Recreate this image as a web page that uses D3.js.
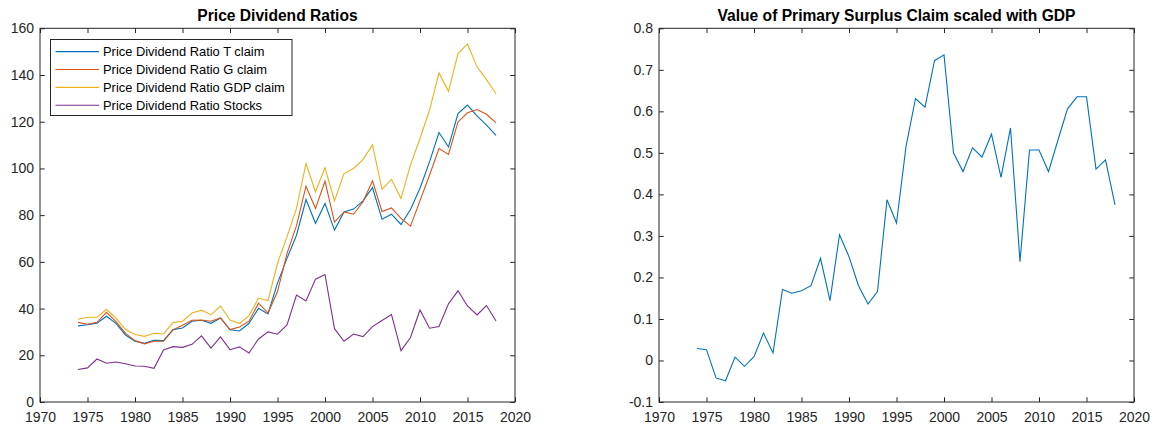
<!DOCTYPE html>
<html>
<head>
<meta charset="utf-8">
<script src="https://cdn.jsdelivr.net/npm/d3@7"></script>
<style>
    body { margin: 0; background: #ffffff; }
    svg text { font-family: "Liberation Sans", Arial, Helvetica, sans-serif; fill: #262626; }
</style>
</head>
<body>
<svg id="fig" width="1156" height="428"></svg>
<script>
// yearly data, 1974 - 2018
var years = [1974, 1975, 1976, 1977, 1978, 1979, 1980, 1981, 1982, 1983, 1984, 1985, 1986, 1987, 1988,
    1989, 1990, 1991, 1992, 1993, 1994, 1995, 1996, 1997, 1998, 1999, 2000, 2001, 2002, 2003,
    2004, 2005, 2006, 2007, 2008, 2009, 2010, 2011, 2012, 2013, 2014, 2015, 2016, 2017, 2018];

var pdT = [32.6, 33.1, 33.7, 36.7, 33.7, 28.7, 26.0, 25.1, 26.4, 26.3, 31.0, 31.7, 34.6, 35.0, 33.7,
    36.0, 30.9, 30.4, 33.7, 40.1, 37.7, 50.9, 61.5, 71.4, 86.7, 76.5, 85.0, 73.6, 81.4, 82.6,
    86.1, 91.8, 78.3, 80.4, 76.0, 82.4, 91.5, 102.8, 115.4, 109.2, 123.5, 127.1, 122.5, 118.5, 114.2];

var pdG = [34.1, 33.3, 34.1, 38.4, 34.4, 29.4, 26.3, 24.9, 26.0, 26.0, 30.9, 32.9, 35.0, 35.1, 34.6,
    36.0, 31.0, 32.1, 34.6, 42.3, 38.1, 47.3, 63.5, 75.5, 92.4, 82.9, 94.5, 77.0, 81.4, 80.4,
    85.7, 94.7, 81.6, 83.1, 78.6, 75.3, 86.2, 97.1, 108.5, 106.0, 119.9, 123.8, 125.2, 123.2, 119.5];

var pdGDP = [35.4, 36.3, 36.3, 39.7, 35.9, 31.0, 28.9, 28.1, 29.4, 29.1, 34.0, 34.6, 38.1, 39.3, 37.4,
    41.1, 35.1, 33.6, 37.0, 44.4, 43.4, 59.4, 70.7, 82.9, 102.1, 90.0, 100.3, 86.1, 97.8, 100.0,
    103.8, 110.1, 91.0, 95.3, 87.1, 101.5, 112.8, 124.9, 140.9, 133.0, 149.2, 153.3, 143.5, 138.0, 132.0];

var pdStocks = [13.9, 14.6, 18.4, 16.6, 17.1, 16.4, 15.4, 15.3, 14.4, 22.3, 23.7, 23.4, 24.7, 28.3, 23.1,
    27.9, 22.4, 23.6, 21.0, 27.0, 30.0, 29.0, 33.0, 45.8, 43.3, 52.6, 54.6, 31.4, 26.0, 29.1,
    28.0, 32.3, 34.9, 37.4, 22.0, 27.6, 39.4, 31.6, 32.3, 42.1, 47.6, 41.1, 37.3, 41.3, 34.7];

var surplus = [0.029, 0.026, -0.042, -0.049, 0.008, -0.014, 0.009, 0.066, 0.018, 0.171, 0.162, 0.168, 0.180, 0.246, 0.144,
    0.303, 0.250, 0.180, 0.136, 0.166, 0.387, 0.331, 0.515, 0.631, 0.610, 0.722, 0.736, 0.500, 0.455, 0.512,
    0.490, 0.545, 0.441, 0.560, 0.238, 0.507, 0.507, 0.455, 0.531, 0.606, 0.635, 0.635, 0.461, 0.483, 0.375];

// tick values
var xTicks = [1970, 1975, 1980, 1985, 1990, 1995, 2000, 2005, 2010, 2015, 2020];
var yTicksLeft = [0, 20, 40, 60, 80, 100, 120, 140, 160];
var yTicksRight = [-0.1, 0, 0.1, 0.2, 0.3, 0.4, 0.5, 0.6, 0.7, 0.8];

var seriesLeft = [
    {name: "Price Dividend Ratio T claim", values: pdT, color: "#0072bd"},
    {name: "Price Dividend Ratio G claim", values: pdG, color: "#d95319"},
    {name: "Price Dividend Ratio GDP claim", values: pdGDP, color: "#edb120"},
    {name: "Price Dividend Ratio Stocks", values: pdStocks, color: "#7e2f8e"}
];

var axisColor = "#262626";
var svg = d3.select("#fig");

// draws one matlab-like axes box and returns the scales
function drawAxes(box, yDomain, yTicks, title) {
    var x = d3.scaleLinear().domain([1970, 2020]).range([box.left, box.right]);
    var y = d3.scaleLinear().domain(yDomain).range([box.bottom, box.top]);
    var tick = 4.75;

    var g = svg.append("g");

    // bottom + left with labels, ticks pointing inward
    g.append("g")
        .attr("transform", "translate(0," + box.bottom + ")")
        .call(d3.axisBottom(x).tickValues(xTicks).tickFormat(d3.format("d"))
            .tickSizeInner(-tick).tickSizeOuter(0).tickPadding(10.5));
    g.append("g")
        .attr("transform", "translate(" + box.left + ",0)")
        .call(d3.axisLeft(y).tickValues(yTicks).tickFormat(function(d) { return String(+d.toFixed(2)); })
            .tickSizeInner(-tick).tickSizeOuter(0).tickPadding(6));

    // top + right, ticks only
    g.append("g")
        .attr("transform", "translate(0," + box.top + ")")
        .call(d3.axisTop(x).tickValues(xTicks).tickFormat("").tickSizeInner(-tick).tickSizeOuter(0));
    g.append("g")
        .attr("transform", "translate(" + box.right + ",0)")
        .call(d3.axisRight(y).tickValues(yTicks).tickFormat("").tickSizeInner(-tick).tickSizeOuter(0));

    g.selectAll(".domain").remove();
    g.selectAll(".tick line").attr("stroke", axisColor);
    g.selectAll(".tick text")
        .attr("font-size", "14px")
        .style("fill", axisColor);

    g.append("rect")
        .attr("x", box.left)
        .attr("y", box.top)
        .attr("width", box.right - box.left)
        .attr("height", box.bottom - box.top)
        .attr("fill", "none")
        .attr("stroke", axisColor)
        .attr("stroke-width", 1);

    svg.append("text")
        .attr("x", (box.left + box.right) / 2)
        .attr("y", 20.5)
        .attr("text-anchor", "middle")
        .attr("font-size", "15.6px")
        .attr("font-weight", "bold")
        .style("fill", "#000000")
        .text(title);

    return {x: x, y: y};
}

function drawLine(sc, values, color) {
    var line = d3.line()
        .x(function(d, i) { return sc.x(years[i]); })
        .y(function(d) { return sc.y(d); });
    svg.append("path")
        .datum(values)
        .attr("d", line)
        .attr("fill", "none")
        .attr("stroke", color)
        .attr("stroke-width", 1.1);
}

// left panel
var left = drawAxes({left: 40, right: 515, top: 28.3, bottom: 402}, [0, 160], yTicksLeft, "Price Dividend Ratios");
seriesLeft.forEach(function(s) {
    drawLine(left, s.values, s.color);
});

// legend
var legend = svg.append("g");
legend.append("rect")
    .attr("x", 50.5)
    .attr("y", 39.5)
    .attr("width", 241.5)
    .attr("height", 76)
    .attr("fill", "#ffffff")
    .attr("stroke", axisColor)
    .attr("stroke-width", 1);
seriesLeft.forEach(function(s, i) {
    var yy = 51.6 + i * 17.9;
    legend.append("line")
        .attr("x1", 55.5).attr("x2", 99)
        .attr("y1", yy).attr("y2", yy)
        .attr("stroke", s.color)
        .attr("stroke-width", 1.1);
    legend.append("text")
        .attr("x", 103)
        .attr("y", yy)
        .attr("dy", "0.35em")
        .attr("font-size", "12.9px")
        .style("fill", "#000000")
        .text(s.name);
});

// right panel
var right = drawAxes({left: 659, right: 1134, top: 28.3, bottom: 402}, [-0.1, 0.8], yTicksRight,
    "Value of Primary Surplus Claim scaled with GDP");
drawLine(right, surplus, "#0072bd");
</script>
</body>
</html>
